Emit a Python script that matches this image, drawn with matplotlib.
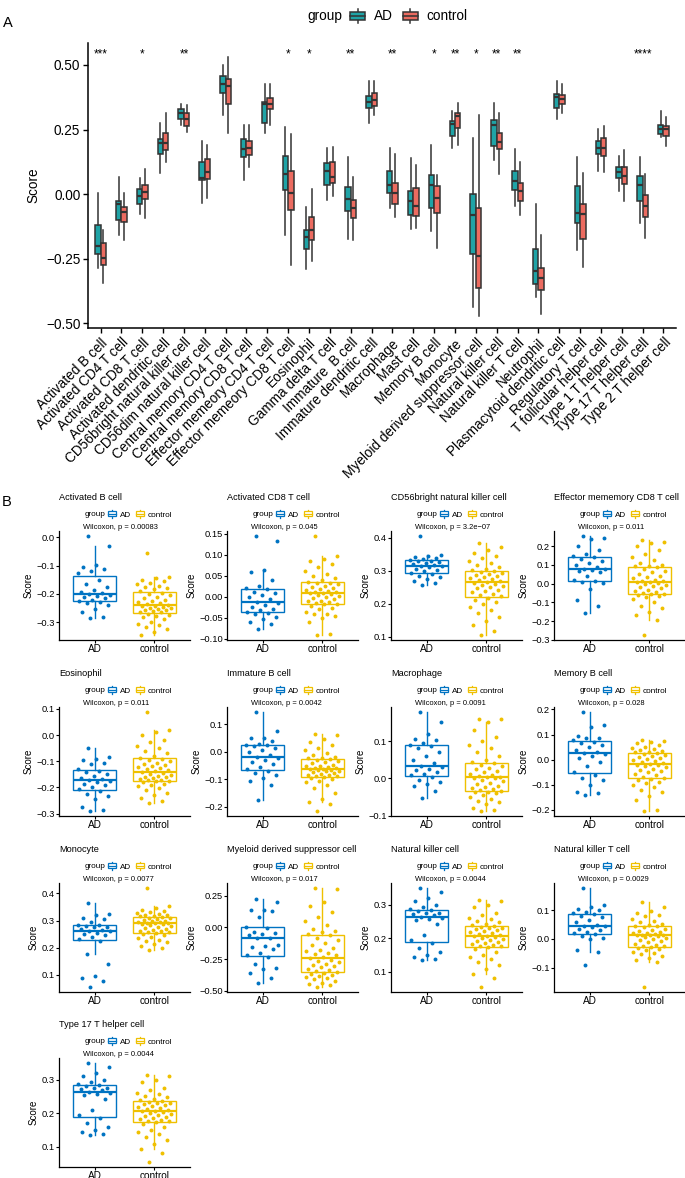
import numpy as np
import matplotlib
matplotlib.use("Agg")
import matplotlib.pyplot as plt
from matplotlib.patches import Patch, Rectangle
from matplotlib.lines import Line2D
from matplotlib.legend_handler import HandlerBase
from matplotlib.ticker import MultipleLocator, FuncFormatter

plt.rcParams['font.family'] = ['Liberation Sans', 'DejaVu Sans']

# ---------------- panel A data (box stats) ----------------
cells = ["Activated B cell", "Activated CD4 T cell", "Activated CD8 T cell",
         "Activated dendritic cell", "CD56bright natural killer cell",
         "CD56dim natural killer cell", "Central memory CD4 T cell",
         "Central memory CD8 T cell", "Effector memeory CD4 T cell",
         "Effector memeory CD8 T cell", "Eosinophil", "Gamma delta T cell",
         "Immature  B cell", "Immature dendritic cell", "Macrophage", "Mast cell",
         "Memory B cell", "Monocyte", "Myeloid derived suppressor cell",
         "Natural killer cell", "Natural killer T cell", "Neutrophil",
         "Plasmacytoid dendritic cell", "Regulatory T cell",
         "T follicular helper cell", "Type 1 T helper cell",
         "Type 17 T helper cell", "Type 2 T helper cell"]

ad_lo = [-0.286, -0.157, -0.077, 0.081, 0.267, -0.035, 0.305, 0.053, 0.238, -0.157,
         -0.290, -0.024, -0.174, 0.276, -0.052, -0.134, -0.142, 0.178, -0.437, 0.133,
         -0.045, -0.399, 0.290, -0.218, 0.091, 0.014, -0.110, 0.220]
ad_q1 = [-0.231, -0.099, -0.040, 0.156, 0.290, 0.053, 0.390, 0.143, 0.276, 0.015,
         -0.211, 0.036, -0.067, 0.332, 0.003, -0.082, -0.054, 0.226, -0.231, 0.187,
         0.017, -0.348, 0.332, -0.112, 0.155, 0.064, -0.026, 0.232]
ad_med = [-0.202, -0.037, -0.006, 0.197, 0.316, 0.063, 0.425, 0.174, 0.349, 0.077,
          -0.166, 0.091, -0.018, 0.357, 0.035, -0.026, 0.037, 0.272, -0.082, 0.268,
          0.049, -0.296, 0.375, -0.073, 0.180, 0.085, 0.034, 0.251]
ad_q3 = [-0.119, -0.028, 0.019, 0.214, 0.330, 0.124, 0.459, 0.213, 0.357, 0.146,
         -0.137, 0.121, 0.028, 0.378, 0.088, 0.013, 0.075, 0.284, 0.000, 0.286,
         0.090, -0.211, 0.387, 0.030, 0.205, 0.107, 0.070, 0.268]
ad_hi = [0.006, 0.068, 0.064, 0.277, 0.348, 0.207, 0.499, 0.268, 0.427, 0.258,
         -0.048, 0.178, 0.144, 0.436, 0.177, 0.140, 0.189, 0.323, 0.216, 0.352,
         0.174, -0.039, 0.438, 0.142, 0.253, 0.149, 0.142, 0.320]

ct_lo = [-0.344, -0.177, -0.093, 0.126, 0.241, -0.013, 0.236, 0.104, 0.268, -0.276,
         -0.260, -0.006, -0.179, 0.308, -0.088, -0.131, -0.207, 0.191, -0.470, 0.077,
         -0.082, -0.464, 0.316, -0.282, 0.084, -0.028, -0.170, 0.187]
ct_q1 = [-0.276, -0.107, -0.019, 0.170, 0.265, 0.058, 0.349, 0.151, 0.329, -0.061,
         -0.178, 0.043, -0.093, 0.341, -0.037, -0.085, -0.073, 0.255, -0.363, 0.174,
         -0.028, -0.369, 0.348, -0.174, 0.147, 0.040, -0.089, 0.226]
ct_med = [-0.247, -0.070, 0.010, 0.197, 0.290, 0.086, 0.420, 0.180, 0.348, 0.006,
          -0.138, 0.068, -0.054, 0.365, 0.003, -0.044, -0.015, 0.303, -0.241, 0.200,
          0.014, -0.325, 0.367, -0.077, 0.180, 0.071, -0.044, 0.251]
ct_q3 = [-0.189, -0.048, 0.035, 0.235, 0.313, 0.135, 0.445, 0.205, 0.374, 0.090,
         -0.090, 0.125, -0.024, 0.392, 0.044, 0.023, 0.030, 0.314, -0.054, 0.238,
         0.045, -0.284, 0.384, -0.039, 0.219, 0.106, -0.005, 0.262]
ct_hi = [-0.140, 0.006, 0.097, 0.313, 0.344, 0.192, 0.530, 0.267, 0.427, 0.232,
         0.019, 0.182, 0.066, 0.436, 0.156, 0.112, 0.076, 0.354, 0.305, 0.316,
         0.126, -0.160, 0.428, 0.080, 0.263, 0.171, 0.077, 0.300]

signif = ["***", "", "*", "", "**", "", "", "", "", "*", "*", "", "**", "", "**", "",
          "*", "**", "*", "**", "**", "", "", "", "", "", "****", ""]

# ---------------- panel B data (jittered points) ----------------
actb_ad = [0.005, -0.032, -0.098, -0.105, -0.112, -0.118, -0.125, -0.150, -0.165, -0.175,
           -0.185, -0.192, -0.197, -0.200, -0.202, -0.206, -0.210, -0.215, -0.220, -0.225,
           -0.228, -0.232, -0.240, -0.252, -0.262, -0.280, -0.284]
actb_ctrl = [-0.055, -0.140, -0.143, -0.150, -0.155, -0.160, -0.165, -0.170, -0.175, -0.178,
             -0.182, -0.190, -0.195, -0.200, -0.205, -0.210, -0.215, -0.220, -0.225, -0.230,
             -0.233, -0.236, -0.239, -0.242, -0.244, -0.246, -0.248, -0.250, -0.252, -0.255,
             -0.258, -0.260, -0.262, -0.265, -0.270, -0.275, -0.278, -0.283, -0.290, -0.300,
             -0.305, -0.310, -0.318, -0.325, -0.335, -0.345]

actcd8_ad = [0.145, 0.132, 0.065, 0.060, 0.040, 0.025, 0.020, 0.018, 0.012, 0.008,
             0.004, 0.000, -0.005, -0.012, -0.015, -0.020, -0.025, -0.028, -0.032, -0.036,
             -0.038, -0.042, -0.048, -0.053, -0.060, -0.065, -0.077]
actcd8_ctrl = [0.145, 0.098, 0.090, 0.085, 0.078, 0.070, 0.062, 0.055, 0.050, 0.045,
               0.040, 0.036, 0.034, 0.032, 0.030, 0.027, 0.024, 0.021, 0.018, 0.016,
               0.014, 0.012, 0.011, 0.010, 0.009, 0.007, 0.005, 0.003, 0.000, -0.003,
               -0.006, -0.009, -0.011, -0.013, -0.015, -0.017, -0.018, -0.022, -0.026, -0.030,
               -0.035, -0.040, -0.040, -0.045, -0.050, -0.060, -0.088, -0.091]

cd56b_ad = [0.405, 0.348, 0.345, 0.342, 0.338, 0.335, 0.332, 0.330, 0.328, 0.325,
            0.322, 0.320, 0.318, 0.315, 0.313, 0.310, 0.306, 0.302, 0.298, 0.294,
            0.290, 0.285, 0.280, 0.275, 0.268, 0.262, 0.258]
cd56b_ctrl = [0.385, 0.372, 0.362, 0.352, 0.345, 0.338, 0.330, 0.322, 0.316, 0.310,
              0.305, 0.301, 0.298, 0.295, 0.292, 0.289, 0.286, 0.283, 0.280, 0.277,
              0.274, 0.271, 0.268, 0.266, 0.264, 0.261, 0.258, 0.254, 0.250, 0.246,
              0.242, 0.238, 0.234, 0.230, 0.226, 0.222, 0.218, 0.212, 0.205, 0.198,
              0.190, 0.182, 0.172, 0.160, 0.148, 0.135, 0.118, 0.105]

emcd8_ad = [0.255, 0.245, 0.240, 0.200, 0.180, 0.160, 0.148, 0.142, 0.130, 0.120,
            0.110, 0.100, 0.090, 0.080, 0.078, 0.075, 0.070, 0.060, 0.040, 0.020,
            0.012, 0.010, 0.005, -0.030, -0.085, -0.120, -0.155]
emcd8_ctrl = [0.235, 0.225, 0.215, 0.200, 0.180, 0.160, 0.140, 0.125, 0.110, 0.100,
              0.095, 0.092, 0.088, 0.080, 0.070, 0.060, 0.050, 0.042, 0.035, 0.028,
              0.022, 0.016, 0.012, 0.010, 0.008, 0.004, -0.002, -0.008, -0.014, -0.020,
              -0.026, -0.032, -0.038, -0.044, -0.050, -0.054, -0.058, -0.062, -0.066, -0.070,
              -0.080, -0.100, -0.120, -0.130, -0.150, -0.170, -0.195, -0.275]

eos_ad = [-0.048, -0.082, -0.090, -0.095, -0.105, -0.112, -0.130, -0.138, -0.142, -0.150,
          -0.158, -0.163, -0.168, -0.172, -0.175, -0.180, -0.185, -0.190, -0.198, -0.205,
          -0.212, -0.225, -0.232, -0.245, -0.275, -0.285, -0.290]
eos_ctrl = [0.088, 0.020, 0.012, 0.000, -0.020, -0.025, -0.040, -0.050, -0.060, -0.070,
            -0.080, -0.086, -0.090, -0.095, -0.100, -0.105, -0.110, -0.114, -0.118, -0.122,
            -0.126, -0.130, -0.134, -0.138, -0.142, -0.146, -0.150, -0.153, -0.156, -0.159,
            -0.162, -0.165, -0.168, -0.170, -0.172, -0.174, -0.177, -0.180, -0.185, -0.190,
            -0.196, -0.202, -0.210, -0.220, -0.230, -0.240, -0.252, -0.260]

immb_ad = [0.145, 0.075, 0.052, 0.050, 0.040, 0.030, 0.026, 0.024, 0.020, 0.015,
           0.005, -0.002, -0.010, -0.018, -0.022, -0.028, -0.035, -0.045, -0.055, -0.062,
           -0.068, -0.075, -0.085, -0.095, -0.105, -0.120, -0.175]
immb_ctrl = [0.065, 0.060, 0.045, 0.035, 0.025, 0.015, 0.005, -0.005, -0.012, -0.018,
             -0.022, -0.024, -0.026, -0.030, -0.034, -0.038, -0.042, -0.046, -0.050, -0.053,
             -0.056, -0.058, -0.060, -0.061, -0.063, -0.065, -0.067, -0.069, -0.071, -0.074,
             -0.077, -0.080, -0.083, -0.085, -0.087, -0.089, -0.091, -0.095, -0.100, -0.105,
             -0.110, -0.120, -0.130, -0.150, -0.170, -0.182, -0.190, -0.215]

macro_ad = [0.178, 0.152, 0.118, 0.105, 0.102, 0.095, 0.090, 0.087, 0.080, 0.070,
            0.060, 0.048, 0.040, 0.033, 0.030, 0.025, 0.022, 0.018, 0.012, 0.008,
            0.003, -0.005, -0.010, -0.015, -0.022, -0.035, -0.052]
macro_ctrl = [0.160, 0.158, 0.150, 0.130, 0.110, 0.100, 0.090, 0.080, 0.070, 0.060,
              0.050, 0.044, 0.040, 0.036, 0.032, 0.028, 0.024, 0.020, 0.016, 0.012,
              0.009, 0.006, 0.004, 0.003, 0.002, 0.000, -0.004, -0.008, -0.012, -0.016,
              -0.020, -0.024, -0.027, -0.030, -0.032, -0.034, -0.036, -0.038, -0.040, -0.045,
              -0.050, -0.055, -0.060, -0.065, -0.070, -0.080, -0.085, -0.088]

memb_ad = [0.190, 0.138, 0.130, 0.095, 0.088, 0.085, 0.078, 0.072, 0.065, 0.060,
           0.052, 0.040, 0.030, 0.025, 0.022, 0.015, 0.005, -0.010, -0.025, -0.050,
           -0.060, -0.075, -0.080, -0.100, -0.128, -0.135, -0.142]
memb_ctrl = [0.078, 0.075, 0.070, 0.065, 0.060, 0.052, 0.048, 0.042, 0.038, 0.035,
             0.032, 0.029, 0.027, 0.024, 0.020, 0.016, 0.012, 0.008, 0.004, 0.000,
             -0.004, -0.008, -0.012, -0.016, -0.020, -0.023, -0.027, -0.031, -0.036, -0.040,
             -0.045, -0.050, -0.056, -0.062, -0.068, -0.072, -0.078, -0.082, -0.088, -0.095,
             -0.100, -0.110, -0.120, -0.130, -0.145, -0.160, -0.200, -0.205]

mono_ad = [0.365, 0.325, 0.320, 0.310, 0.305, 0.295, 0.285, 0.282, 0.280, 0.278,
           0.275, 0.270, 0.265, 0.262, 0.260, 0.255, 0.250, 0.245, 0.240, 0.232,
           0.225, 0.178, 0.140, 0.095, 0.090, 0.078, 0.055]
mono_ctrl = [0.420, 0.355, 0.345, 0.340, 0.335, 0.332, 0.328, 0.325, 0.322, 0.320,
             0.318, 0.316, 0.314, 0.311, 0.308, 0.305, 0.302, 0.300, 0.298, 0.296,
             0.294, 0.292, 0.291, 0.290, 0.289, 0.287, 0.284, 0.280, 0.276, 0.272,
             0.268, 0.265, 0.262, 0.260, 0.258, 0.256, 0.254, 0.250, 0.245, 0.240,
             0.235, 0.230, 0.225, 0.220, 0.212, 0.205, 0.198, 0.192]

mdsc_ad = [0.220, 0.200, 0.140, 0.135, 0.130, 0.080, 0.005, -0.003, -0.040, -0.045,
           -0.050, -0.060, -0.080, -0.085, -0.140, -0.150, -0.155, -0.170, -0.200, -0.220,
           -0.230, -0.290, -0.320, -0.330, -0.360, -0.400, -0.435]
mdsc_ctrl = [0.310, 0.300, 0.200, 0.170, 0.120, 0.080, 0.050, 0.020, -0.010, -0.030,
             -0.040, -0.050, -0.060, -0.080, -0.100, -0.120, -0.140, -0.160, -0.175, -0.190,
             -0.200, -0.210, -0.220, -0.235, -0.245, -0.255, -0.265, -0.275, -0.285, -0.295,
             -0.305, -0.315, -0.325, -0.335, -0.342, -0.350, -0.358, -0.365, -0.372, -0.380,
             -0.390, -0.400, -0.410, -0.420, -0.435, -0.445, -0.455, -0.470]

nk_ad = [0.350, 0.338, 0.320, 0.310, 0.300, 0.292, 0.286, 0.284, 0.280, 0.276,
         0.274, 0.272, 0.268, 0.265, 0.262, 0.258, 0.255, 0.242, 0.210, 0.196,
         0.185, 0.170, 0.158, 0.150, 0.145, 0.138, 0.135]
nk_ctrl = [0.315, 0.310, 0.298, 0.292, 0.275, 0.268, 0.262, 0.258, 0.252, 0.248,
           0.244, 0.240, 0.236, 0.234, 0.232, 0.230, 0.228, 0.225, 0.222, 0.220,
           0.217, 0.214, 0.211, 0.208, 0.206, 0.204, 0.201, 0.198, 0.195, 0.192,
           0.189, 0.186, 0.183, 0.180, 0.178, 0.176, 0.173, 0.168, 0.160, 0.150,
           0.145, 0.138, 0.130, 0.120, 0.110, 0.095, 0.081, 0.055]

nkt_ad = [0.178, 0.120, 0.110, 0.105, 0.100, 0.095, 0.090, 0.086, 0.080, 0.075,
          0.065, 0.058, 0.050, 0.046, 0.044, 0.040, 0.035, 0.030, 0.025, 0.020,
          0.016, 0.010, 0.005, 0.000, -0.040, -0.045, -0.090]
nkt_ctrl = [0.128, 0.110, 0.098, 0.092, 0.085, 0.080, 0.070, 0.062, 0.058, 0.052,
            0.048, 0.046, 0.044, 0.040, 0.036, 0.032, 0.028, 0.025, 0.022, 0.019,
            0.017, 0.015, 0.014, 0.013, 0.012, 0.010, 0.007, 0.004, 0.000, -0.004,
            -0.008, -0.012, -0.016, -0.020, -0.023, -0.026, -0.028, -0.032, -0.036, -0.040,
            -0.044, -0.048, -0.052, -0.060, -0.068, -0.075, -0.082, -0.168]

# the published Type 17 panel repeats the natural killer cell values
th17_ad = list(nk_ad)
th17_ctrl = list(nk_ctrl)

b_titles = ["Activated B cell", "Activated CD8 T cell", "CD56bright natural killer cell",
            "Effector mememory CD8 T cell", "Eosinophil", "Immature B cell", "Macrophage",
            "Memory B cell", "Monocyte", "Myeloid derived suppressor cell",
            "Natural killer cell", "Natural killer T cell", "Type 17 T helper cell"]
b_pvals = ["0.00083", "0.045", "3.2e\u221207", "0.011", "0.011", "0.0042", "0.0091",
           "0.028", "0.0077", "0.017", "0.0044", "0.0029", "0.0044"]
b_ad = [actb_ad, actcd8_ad, cd56b_ad, emcd8_ad, eos_ad, immb_ad, macro_ad, memb_ad,
        mono_ad, mdsc_ad, nk_ad, nkt_ad, th17_ad]
b_ctrl = [actb_ctrl, actcd8_ctrl, cd56b_ctrl, emcd8_ctrl, eos_ctrl, immb_ctrl, macro_ctrl,
          memb_ctrl, mono_ctrl, mdsc_ctrl, nk_ctrl, nkt_ctrl, th17_ctrl]
b_step = [0.1, 0.05, 0.1, 0.1, 0.1, 0.1, 0.1, 0.1, 0.1, 0.25, 0.1, 0.1, 0.1]
b_dec = [1, 2, 1, 1, 1, 1, 1, 1, 1, 2, 1, 1, 1]
groups = ["AD", "control"]

TEAL, SALMON, DARK = "#1fa3a6", "#ec6b60", "#333333"
BLUE, YELLOW = "#0073C2", "#EFC000"
W, H = 685, 1178


class BoxKey(HandlerBase):
    """legend key drawn like a small ggplot boxplot"""
    def create_artists(self, legend, orig_handle, xdescent, ydescent, width, height, fontsize, trans):
        fc = orig_handle.get_facecolor()
        ec = orig_handle.get_edgecolor()
        lw = orig_handle.get_linewidth()
        x0, y0 = -xdescent, -ydescent
        cx = x0 + width / 2
        up = Line2D([cx, cx], [y0 + 0.78 * height, y0 + height], color=ec, lw=lw, transform=trans)
        dn = Line2D([cx, cx], [y0, y0 + 0.22 * height], color=ec, lw=lw, transform=trans)
        box = Rectangle((x0 + 0.08 * width, y0 + 0.22 * height), 0.84 * width, 0.56 * height,
                        facecolor=fc, edgecolor=ec, lw=lw, transform=trans)
        med = Line2D([x0 + 0.08 * width, x0 + 0.92 * width], [y0 + 0.5 * height] * 2,
                     color=ec, lw=lw, transform=trans)
        return [up, dn, box, med]


def minus(s):
    return s.replace("-", "\u2212")


fig = plt.figure(figsize=(W / 100, H / 100), dpi=100)

# ---------------- panel A ----------------
ax = fig.add_axes([88 / W, 1 - 328 / H, (676 - 88) / W, (328 - 43) / H])
x = np.arange(1, len(cells) + 1)
for lo, q1, med, q3, hi, off, col in [(ad_lo, ad_q1, ad_med, ad_q3, ad_hi, -0.13, TEAL),
                                      (ct_lo, ct_q1, ct_med, ct_q3, ct_hi, 0.13, SALMON)]:
    stats = [dict(whislo=a, q1=b, med=c, q3=d, whishi=e, fliers=[])
             for a, b, c, d, e in zip(lo, q1, med, q3, hi)]
    ax.bxp(stats, positions=x + off, widths=0.26, patch_artist=True, showfliers=False,
           showcaps=False, manage_ticks=False,
           boxprops=dict(facecolor=col, edgecolor=DARK, linewidth=1.1),
           medianprops=dict(color=DARK, linewidth=1.6, solid_capstyle='butt'),
           whiskerprops=dict(color=DARK, linewidth=1.1))
for xi, s in zip(x, signif):
    if s:
        ax.text(xi, 0.531, s, ha='center', va='baseline', fontsize=8.5)
ax.set_xlim(0.4, len(cells) + 0.6)
ax.set_ylim(-0.518, 0.585)
ax.set_yticks([-0.5, -0.25, 0, 0.25, 0.5])
ax.set_yticklabels(["\u22120.50", "\u22120.25", "0.00", "0.25", "0.50"])
ax.set_xticks(x)
ax.set_xticklabels(cells, rotation=45, ha='right', va='top', rotation_mode='anchor')
ax.tick_params(labelsize=9.8, length=3.5, width=1.0, color='black', pad=2)
ax.set_ylabel("Score", fontsize=9.8, labelpad=4)
for sp in ['top', 'right']:
    ax.spines[sp].set_visible(False)
for sp in ['left', 'bottom']:
    ax.spines[sp].set_linewidth(1.1)

fig.text(3 / W, 1 - 23 / H, "A", fontsize=10.5, va='center')
fig.text(307 / W, 1 - 16 / H, "group", fontsize=9.8, va='center')
fig.legend([Patch(facecolor=TEAL, edgecolor=DARK, linewidth=1.1),
            Patch(facecolor=SALMON, edgecolor=DARK, linewidth=1.1)], groups,
           loc='center left', bbox_to_anchor=(349 / W, 1 - 16 / H), ncol=2, frameon=False,
           fontsize=9.8, handlelength=1.25, handleheight=1.3, handletextpad=0.55,
           columnspacing=0.7, borderpad=0, borderaxespad=0, handler_map={Patch: BoxKey()})

# ---------------- panel B ----------------
fig.text(2 / W, 1 - 502 / H, "B", fontsize=10.5, va='center')
col_left = [59, 227, 391, 554]
row_bottom = [640, 816, 992, 1167]
aw, ah = 131, 109
for k in range(len(b_titles)):
    r, c = divmod(k, 4)
    bx = fig.add_axes([col_left[c] / W, 1 - row_bottom[r] / H, aw / W, ah / H])
    ad, ct = np.array(b_ad[k]), np.array(b_ctrl[k])
    bp = bx.boxplot([ad, ct], positions=[1, 2], widths=0.73, showfliers=False,
                    showcaps=False, patch_artist=True, manage_ticks=False,
                    medianprops=dict(linewidth=1.6, solid_capstyle='butt'),
                    boxprops=dict(linewidth=1.0), whiskerprops=dict(linewidth=1.0))
    for i, col in enumerate([BLUE, YELLOW]):
        bp['boxes'][i].set_facecolor('white')
        bp['boxes'][i].set_edgecolor(col)
        bp['medians'][i].set_color(col)
        bp['whiskers'][2 * i].set_color(col)
        bp['whiskers'][2 * i + 1].set_color(col)
    for pos, vals, col in [(1, ad, BLUE), (2, ct, YELLOW)]:
        offs = ((np.arange(len(vals)) * 0.618034 + 0.3) % 1.0 - 0.5) * 0.58
        bx.scatter(pos + offs, vals, s=8, color=col, linewidths=0, zorder=3)
    allv = np.concatenate([ad, ct])
    span = allv.max() - allv.min()
    bx.set_ylim(allv.min() - 0.05 * span, allv.max() + 0.05 * span)
    bx.set_xlim(0.4, 2.6)
    bx.set_xticks([1, 2])
    bx.set_xticklabels(groups)
    bx.yaxis.set_major_locator(MultipleLocator(b_step[k]))
    d = b_dec[k]
    bx.yaxis.set_major_formatter(FuncFormatter(
        lambda v, p, d=d: minus(f"{(0.0 if abs(v) < 1e-9 else v):.{d}f}")))
    bx.tick_params(axis='y', labelsize=6.7, length=2, width=0.8, pad=1)
    bx.tick_params(axis='x', labelsize=7.2, length=2, width=0.8, pad=1)
    bx.set_ylabel("Score", fontsize=7, labelpad=2)
    for sp in ['top', 'right']:
        bx.spines[sp].set_visible(False)
    for sp in ['left', 'bottom']:
        bx.spines[sp].set_linewidth(0.9)
    bx.text(0, 1.31, b_titles[k], transform=bx.transAxes, ha='left', va='center', fontsize=6.6)
    bx.text(0.355, 1.155, "group", transform=bx.transAxes, ha='right', va='center', fontsize=5.9)
    bx.legend([Patch(facecolor='white', edgecolor=BLUE, linewidth=0.9),
               Patch(facecolor='white', edgecolor=YELLOW, linewidth=0.9)], groups,
              loc='center left', bbox_to_anchor=(0.365, 1.155), ncol=2, frameon=False,
              fontsize=5.9, handlelength=1.2, handleheight=1.2, handletextpad=0.35,
              columnspacing=0.5, borderpad=0, borderaxespad=0, handler_map={Patch: BoxKey()})
    bx.text(0.18, 1.0, "Wilcoxon, p = " + b_pvals[k], transform=bx.transAxes,
            ha='left', va='bottom', fontsize=5.4)

fig.savefig("out.png", dpi=100)
